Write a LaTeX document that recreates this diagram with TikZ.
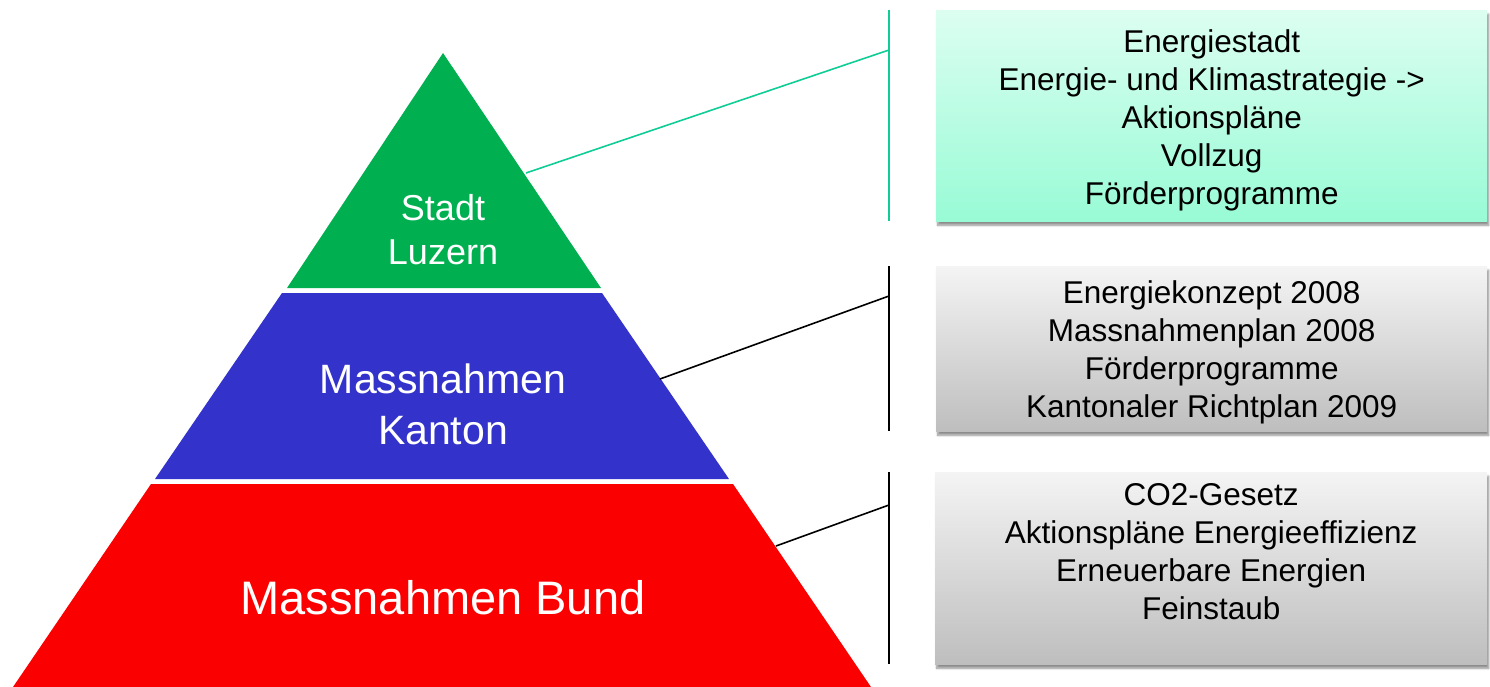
\documentclass[tikz,border=0pt]{standalone}
\usepackage{fontspec}
\setmainfont{Liberation Sans}
\usetikzlibrary{shadows.blur}

\definecolor{stadtgreen}{HTML}{00B050}
\definecolor{kantonblue}{HTML}{3333CC}
\definecolor{bundred}{HTML}{FB0000}
\definecolor{tealline}{HTML}{10CC96}
\definecolor{mintlight}{HTML}{DCFEF1}
\definecolor{mintdark}{HTML}{98FBD6}
\definecolor{greylight}{HTML}{F4F4F4}
\definecolor{greydark}{HTML}{BEBEBE}

\tikzset{
  tierlabel/.style={text=white, align=center, inner sep=0pt},
  infobox/.style={rectangle, anchor=north west, inner sep=0pt, align=center,
    font=\fontsize{31.5}{38}\selectfont, text=black,
    blur shadow={shadow xshift=1.5pt, shadow yshift=-4pt, shadow blur steps=6, shadow opacity=45}},
  greenbox/.style={infobox, top color=mintlight, bottom color=mintdark},
  greybox/.style={infobox, top color=greylight, bottom color=greydark},
  bracket/.style={line width=2pt},
  link/.style={line width=1.6pt}
}

\begin{document}
\begin{tikzpicture}[x=1pt, y=-1pt]
\useasboundingbox (0,0) rectangle (1490,687);

% pyramid tiers
\fill[stadtgreen] (443,53) -- (601,288) -- (287,288) -- cycle;
\fill[kantonblue] (282,293) -- (602,293) -- (729,479) -- (155,479) -- cycle;
\fill[bundred] (151,484) -- (733,484) -- (871,687) -- (13,687) -- cycle;

\node[tierlabel, font=\fontsize{36}{44}\selectfont] (stadt) at (443,230) {Stadt\\Luzern};
\node[tierlabel, font=\fontsize{41}{51}\selectfont] (kanton) at (443,404) {Massnahmen\\Kanton};
\node[tierlabel, font=\fontsize{47}{56}\selectfont] (bund) at (443,598) {Massnahmen Bund};

% anchor points on the tier edges and on the brackets
\coordinate (eStadt) at (526,173);
\coordinate (eKanton) at (660,379);
\coordinate (eBund) at (776,546);
\coordinate (b1top) at (889,10);   \coordinate (b1mid) at (889,50);   \coordinate (b1bot) at (889,221);
\coordinate (b2top) at (889,266);  \coordinate (b2mid) at (889,296);  \coordinate (b2bot) at (889,431);
\coordinate (b3top) at (889,472);  \coordinate (b3mid) at (889,505);  \coordinate (b3bot) at (889,664);

% brackets
\draw[bracket, tealline] (b1top) -- (b1bot);
\draw[bracket, black] (b2top) -- (b2bot);
\draw[bracket, black] (b3top) -- (b3bot);

% connectors
\draw[link, tealline] (eStadt) -- (b1mid);
\draw[link, black] (eKanton) -- (b2mid);
\draw[link, black] (eBund) -- (b3mid);

% info boxes
\node[greenbox, minimum width=551pt, minimum height=211pt] (boxStadt) at (936,10)
  {\rule{0pt}{33pt}Energiestadt\\Energie- und Klimastrategie ->\\Aktionspläne\\Vollzug\\Förderprogramme};
\node[greybox, minimum width=551pt, minimum height=165pt] (boxKanton) at (936,266)
  {\rule{0pt}{31pt}Energiekonzept 2008\\Massnahmenplan 2008\\Förderprogramme\\Kantonaler Richtplan 2009};
\node[greybox, minimum width=552pt, minimum height=192pt] (boxBund) at (935,472)
  {CO2-Gesetz\\Aktionspläne Energieeffizienz\\Erneuerbare Energien\\Feinstaub\\[-16pt]\strut};
\end{tikzpicture}
\end{document}
